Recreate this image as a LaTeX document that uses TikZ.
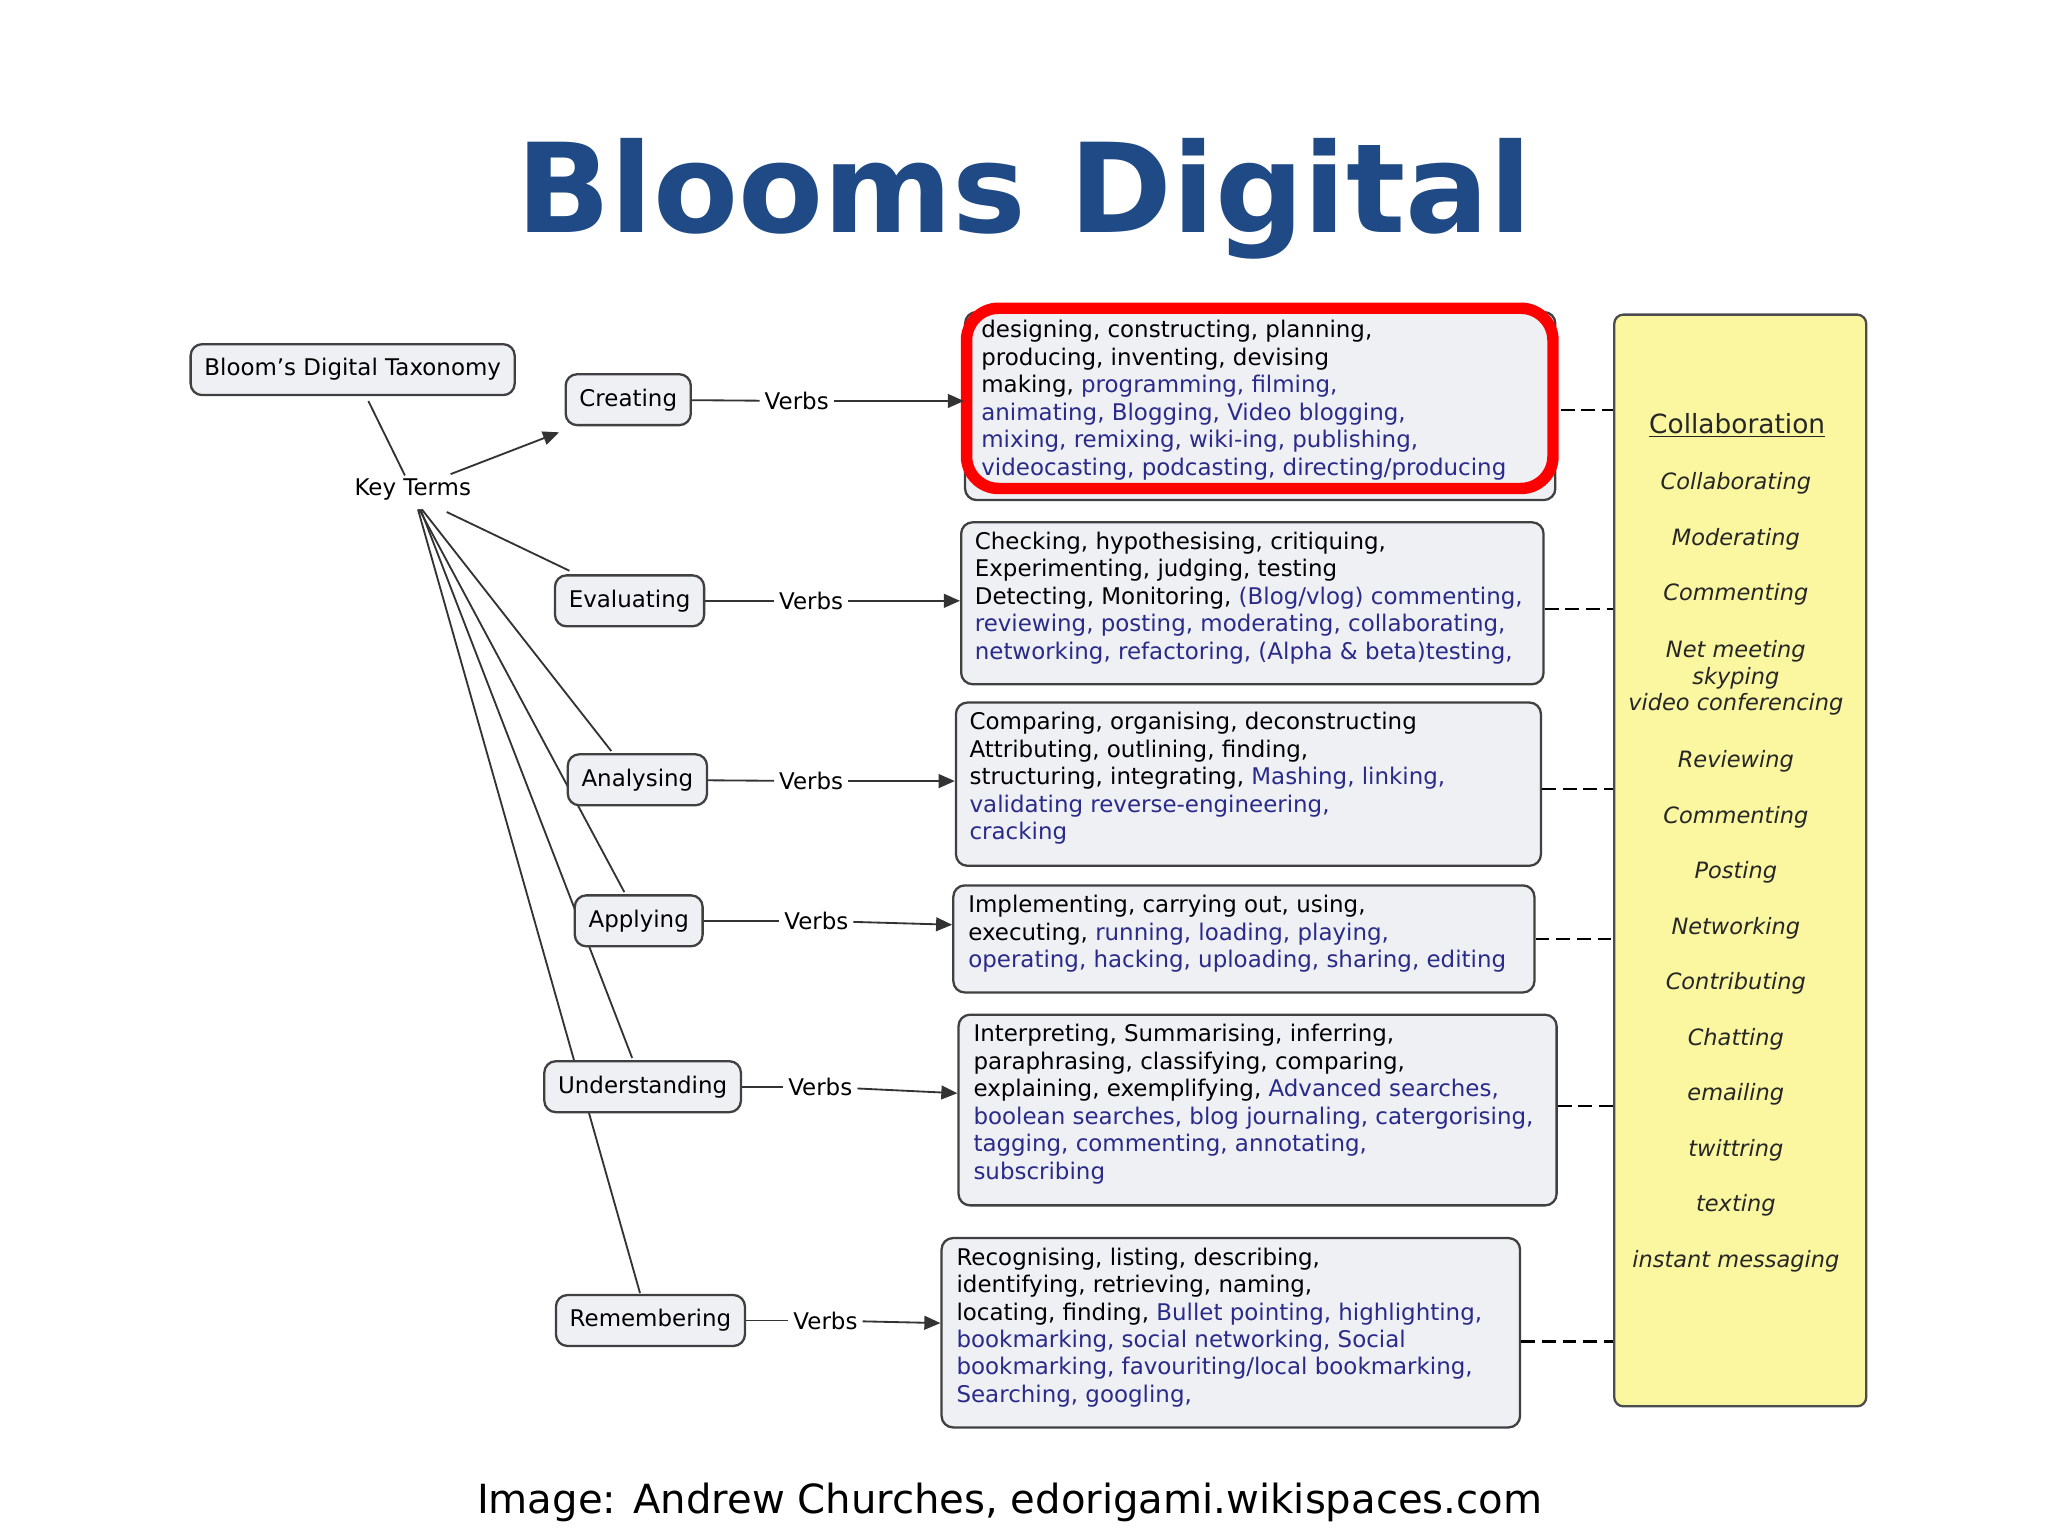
\documentclass[tikz,border=0pt]{standalone}
\usepackage{fontspec}
\setmainfont{DejaVu Sans}
\usetikzlibrary{arrows.meta}
\definecolor{ttl}{HTML}{1F4A85}
\definecolor{bl}{HTML}{2A2A8A}
\definecolor{boxf}{HTML}{EEF0F4}
\definecolor{yel}{HTML}{FAF7A0}
\newcommand{\B}[1]{\textcolor{bl}{#1}}
\begin{document}
\begin{tikzpicture}[x=0.02cm,y=-0.02cm,
 lbl/.style={draw=black!75,fill=boxf,rounded corners=5pt,line width=1pt,font=\fontsize{10}{11}\selectfont,minimum height=0.78cm,inner xsep=6pt},
 txt/.style={draw=black!75,fill=boxf,rounded corners=5pt,line width=1pt,align=left,anchor=north west,inner sep=0pt},
 tt/.style={anchor=north west,align=left,font=\fontsize{10}{11.95}\selectfont,inner sep=0pt},
 vb/.style={font=\fontsize{10}{11}\selectfont,fill=white,inner sep=2pt},
 ln/.style={draw=black!80,line width=0.8pt},
 ar/.style={ln,-{Triangle[length=7pt,width=6pt]}},
 dsh/.style={draw=black,line width=1pt,dash pattern=on 6pt off 3pt},
 yi/.style={font=\fontsize{9.8}{11.5}\selectfont\itshape,text=black!85,align=center}]
\useasboundingbox[fill=white] (0,0) rectangle (1568,1176);
\node[font=\fontsize{54}{62}\selectfont\bfseries,text=ttl] (title) at (784,152) {Blooms Digital};
% yellow box
\node[draw=black!70,fill=yel,rounded corners=4pt,line width=1pt,minimum width=3.86cm,minimum height=16.72cm,anchor=north west] (yb) at (1235,240) {};
\node[yi,font=\fontsize{11.5}{13}\selectfont] (c0) at (1330,326) {\underline{Collaboration}};
\foreach \t/\y [count=\i] in {Collaborating/370,Moderating/413,Commenting/455,Reviewing/583,Commenting/626,Posting/668,Networking/711,Contributing/753,Chatting/796,emailing/838,twittring/881,texting/923,instant messaging/966}
  \node[yi] (y\i) at (1329,\y) {\t};
\node[yi] (ynet) at (1329,519) {Net meeting\\skyping\\video conferencing};
% text boxes
\node[txt,minimum width=9.04cm,minimum height=2.88cm] (t1) at (738,238) {};
\node[tt] (t1t) at (751,245) {designing, constructing, planning,\\producing, inventing, devising\\making, \B{programming, filming,}\\\B{animating, Blogging, Video blogging,}\\\B{mixing, remixing, wiki-ing, publishing,}\\\B{videocasting, podcasting, directing/producing}};
\draw[red,line width=5pt,rounded corners=14pt] (740,236) rectangle (1189,374);
\node[txt,minimum width=8.92cm,minimum height=2.48cm] (t2) at (735,399) {};
\node[tt] at (746,407) {Checking, hypothesising, critiquing,\\Experimenting, judging, testing\\Detecting, Monitoring, \B{(Blog/vlog) commenting,}\\\B{reviewing, posting, moderating, collaborating,}\\\B{networking, refactoring, (Alpha \& beta)testing,}};
\node[txt,minimum width=8.96cm,minimum height=2.5cm] (t3) at (731,537) {};
\node[tt] at (742,545) {Comparing, organising, deconstructing\\Attributing, outlining, finding,\\structuring, integrating, \B{Mashing, linking,}\\\B{validating reverse-engineering,}\\\B{cracking}};
\node[txt,minimum width=8.9cm,minimum height=1.64cm] (t4) at (729,677) {};
\node[tt] at (741,685) {Implementing, carrying out, using,\\executing, \B{running, loading, playing,}\\\B{operating, hacking, uploading, sharing, editing}};
\node[txt,minimum width=9.16cm,minimum height=2.92cm] (t5) at (733,776) {};
\node[tt] at (745,784) {Interpreting, Summarising, inferring,\\paraphrasing, classifying, comparing,\\explaining, exemplifying, \B{Advanced searches,}\\\B{boolean searches, blog journaling, catergorising,}\\\B{tagging, commenting, annotating,}\\\B{subscribing}};
\node[txt,minimum width=8.86cm,minimum height=2.9cm] (t6) at (720,947) {};
\node[tt] at (732,955) {Recognising, listing, describing,\\identifying, retrieving, naming,\\locating, finding, \B{Bullet pointing, highlighting,}\\\B{bookmarking, social networking, Social}\\\B{bookmarking, favouriting/local bookmarking,}\\\B{Searching, googling,}};
% dashed
\coordinate (d1) at (1235,314); \coordinate (e1) at (1195,314);
\draw[dsh] (e1)--(d1);
\draw[dsh] (t2.east|-0,466)--(yb.west|-0,466);
\draw[dsh] (t3.east|-0,604)--(yb.west|-0,604);
\draw[dsh] (t4.east|-0,719)--(yb.west|-0,719);
\draw[dsh] (t5.east|-0,847)--(yb.west|-0,847);
\draw[dsh] (t6.east|-0,1027)--(yb.west|-0,1027);
% key terms lines
\node[font=\fontsize{10}{11}\selectfont] (kt) at (316,375) {Key Terms};
\coordinate (k) at (320,390);
\draw[ln] (k)--(490,990);
\draw[ln] (322,390)--(484,810);
\draw[ln] (321,390)--(478,683);
\draw[ln] (323,390)--(468,575);
\draw[ln] (342,392)--(436,437);
\draw[ar] (345,363)--(428,331);
% label boxes
\node[lbl] (bdt) at (270,283) {Bloom's Digital Taxonomy};
\draw[ln] (282,307)--(310,364);
\node[lbl] (cr) at (481,306) {Creating};
\node[lbl] (ev) at (482,460) {Evaluating};
\node[lbl] (an) at (488,597) {Analysing};
\node[lbl] (ap) at (489,705) {Applying};
\node[lbl] (un) at (492,832) {Understanding};
\node[lbl] (re) at (498,1011) {Remembering};
% verbs
\node[vb] (v1) at (610,307) {Verbs}; \draw[ln] (cr)--(v1); \draw[ar] (v1)--(t1.west|-0,307);
\node[vb] (v2) at (621,460) {Verbs}; \draw[ln] (ev)--(v2); \draw[ar] (v2)--(t2.west|-0,460);
\node[vb] (v3) at (621,598) {Verbs}; \draw[ln] (an)--(v3); \draw[ar] (v3)--(t3.west|-0,598);
\node[vb] (v4) at (625,705) {Verbs}; \draw[ln] (ap)--(v4); \draw[ar] (v4)--(t4.west|-0,708);
\node[vb] (v5) at (628,832) {Verbs}; \draw[ln] (un)--(v5); \draw[ar] (v5)--(t5.west|-0,837);
\node[vb] (v6) at (632,1011) {Verbs}; \draw[ln] (re)--(v6); \draw[ar] (v6)--(t6.west|-0,1013);
\node[font=\fontsize{17.5}{20}\selectfont] (cap) at (773,1150) {Image: Andrew Churches, edorigami.wikispaces.com};
\end{tikzpicture}
\end{document}
